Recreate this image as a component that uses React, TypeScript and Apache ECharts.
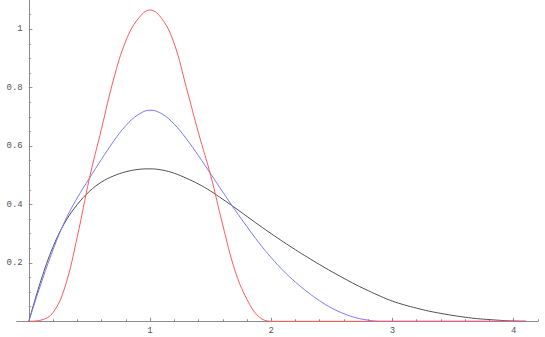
import React, { useEffect, useRef } from "react";
import * as echarts from "echarts";

const xs = [0, 0.1, 0.2, 0.3, 0.4, 0.5, 0.6, 0.7, 0.8, 0.9, 1.0, 1.1, 1.2, 1.3, 1.4, 1.5, 1.6, 1.7, 1.8, 1.9, 2.0,
  2.1, 2.2, 2.3, 2.4, 2.5, 2.6, 2.7, 2.8, 2.9, 3.0, 3.1, 3.2, 3.3, 3.4, 3.5, 3.6, 3.7, 3.8, 3.9, 4.0, 4.1];

const blackValues = [0, 0.14, 0.255, 0.34, 0.4, 0.445, 0.477, 0.498, 0.512, 0.52, 0.522,
  0.518, 0.507, 0.49, 0.47, 0.446, 0.418, 0.389, 0.359, 0.329, 0.3,
  0.272, 0.245, 0.219, 0.194, 0.17, 0.147, 0.125, 0.105, 0.086, 0.069,
  0.056, 0.045, 0.035, 0.027, 0.02, 0.014, 0.009, 0.006, 0.003, 0.001, 0];

const blueValues = [0, 0.128, 0.245, 0.345, 0.423, 0.49, 0.555, 0.617, 0.67, 0.707, 0.723,
  0.71, 0.675, 0.625, 0.567, 0.505, 0.443, 0.382, 0.324, 0.268, 0.218,
  0.173, 0.134, 0.1, 0.07, 0.045, 0.026, 0.012, 0.004, 0, 0,
  0, 0, 0, 0, 0, 0, 0, 0, 0, 0, 0];

const redValues = [0, 0.004, 0.03, 0.12, 0.29, 0.49, 0.66, 0.83, 0.96, 1.035, 1.066,
  1.035, 0.95, 0.8, 0.645, 0.5, 0.33, 0.175, 0.075, 0.015, 0,
  0, 0, 0, 0, 0, 0, 0, 0, 0, 0,
  0, 0, 0, 0, 0, 0, 0, 0, 0, 0, 0];

const xTickLabels = [1, 2, 3, 4];
const xMinorTicks = [0.2, 0.4, 0.6, 0.8, 1.2, 1.4, 1.6, 1.8, 2.2, 2.4, 2.6, 2.8, 3.2, 3.4, 3.6, 3.8, 4.2];
const yTickLabels = [0.2, 0.4, 0.6, 0.8, 1];
const yMinorTicks = [0.05, 0.1, 0.15, 0.25, 0.3, 0.35, 0.45, 0.5, 0.55, 0.65, 0.7, 0.75, 0.85, 0.9, 0.95, 1.05];

const axisColor = "#8c8c8c";
const labelStyle = { fontFamily: "Liberation Mono", fontSize: 9, color: "#555" };

export default function App() {
  const ref = useRef<HTMLDivElement>(null);
  useEffect(() => {
    if (!ref.current) return;
    const chart = echarts.init(ref.current, null, { renderer: "svg" });
    const pairs = (vals: number[]) => xs.map((x, i) => [x, vals[i]]);
    const xBase = { type: "value", min: -0.1, max: 4.2, position: "bottom", splitLine: { show: false } };
    const yBase = { type: "value", min: 0, max: 1.1, position: "left", splitLine: { show: false } };
    chart.setOption({
      animation: false,
      grid: { left: 16.7, right: 7.1, top: 0.1, bottom: 15.7, containLabel: false, outerBoundsMode: "none" },
      xAxis: [
        {
          ...xBase,
          axisLine: { show: true, onZero: true, lineStyle: { color: axisColor, width: 1 } },
          axisTick: { show: true, inside: true, length: 3.5, customValues: xTickLabels, lineStyle: { color: axisColor } },
          axisLabel: { show: true, margin: 5, customValues: xTickLabels, ...labelStyle },
        },
        {
          ...xBase,
          axisLine: { show: false, onZero: true },
          axisTick: { show: true, inside: true, length: 2, customValues: xMinorTicks, lineStyle: { color: axisColor } },
          axisLabel: { show: false },
        },
      ],
      yAxis: [
        {
          ...yBase,
          axisLine: { show: true, onZero: true, onZeroAxisIndex: 0, lineStyle: { color: axisColor, width: 1 } },
          axisTick: { show: true, inside: true, length: 3.5, customValues: yTickLabels, lineStyle: { color: axisColor } },
          axisLabel: { show: true, margin: -6, customValues: yTickLabels, ...labelStyle },
        },
        {
          ...yBase,
          axisLine: { show: false, onZero: true, onZeroAxisIndex: 0 },
          axisTick: { show: true, inside: true, length: 2, customValues: yMinorTicks, lineStyle: { color: axisColor } },
          axisLabel: { show: false },
        },
      ],
      series: [
        { type: "line", data: pairs(blackValues), showSymbol: false, smooth: 0.4, clip: false, lineStyle: { color: "#505050", width: 1 } },
        { type: "line", data: pairs(blueValues), showSymbol: false, smooth: 0.4, clip: false, lineStyle: { color: "#7a7aff", width: 1 } },
        { type: "line", data: pairs(redValues), showSymbol: false, smooth: 0.4, clip: false, lineStyle: { color: "#ff5a5a", width: 1 } },
      ],
    });
    return () => chart.dispose();
  }, []);
  return <div ref={ref} style={{ position: "absolute", left: 0, top: 0, width: 545, height: 337 }} />;
}
